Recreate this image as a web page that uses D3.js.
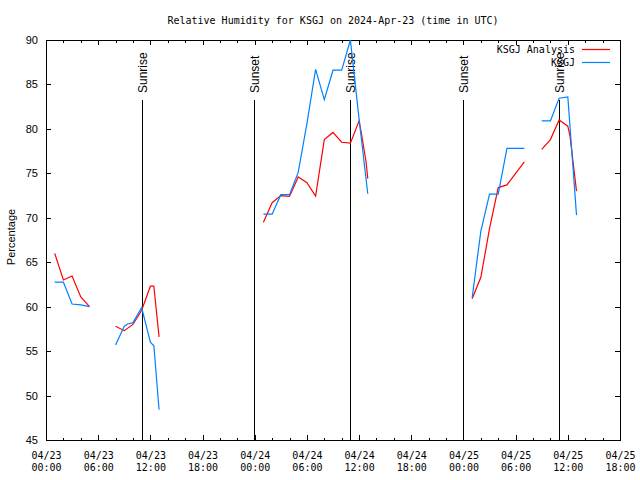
<!DOCTYPE html>
<html>
<head>
<meta charset="utf-8">
<script src="https://cdn.jsdelivr.net/npm/d3@7"></script>
<style>
  html, body { margin: 0; padding: 0; background: #fff; }
  svg { display: block; }
  .mono { font-family: "DejaVu Sans Mono", "Liberation Mono", monospace; font-size: 10px; }
  .sans { font-family: "Liberation Sans", Arial, sans-serif; }
</style>
</head>
<body>
<svg id="chart" width="640" height="480"></svg>
<script>
// ---------------- DATA ----------------
const titleText = "Relative Humidity for KSGJ on 2024-Apr-23 (time in UTC)";
const yLabel = "Percentage";
const seriesNames = ["KSGJ Analysis", "KSGJ"];
const seriesColors = ["#ff0000", "#0080ff"];

// KSGJ Analysis (null = gap)
const analysisTimes = [
  "2024-04-23T01:00Z","2024-04-23T02:00Z","2024-04-23T03:00Z","2024-04-23T04:00Z","2024-04-23T05:00Z","2024-04-23T06:00Z",
  "2024-04-23T08:00Z","2024-04-23T09:00Z","2024-04-23T10:00Z","2024-04-23T11:00Z","2024-04-23T12:00Z","2024-04-23T12:24Z","2024-04-23T13:00Z","2024-04-23T14:00Z",
  "2024-04-24T01:00Z","2024-04-24T02:00Z","2024-04-24T03:00Z","2024-04-24T04:00Z","2024-04-24T05:00Z","2024-04-24T06:00Z","2024-04-24T07:00Z",
  "2024-04-24T08:00Z","2024-04-24T09:00Z","2024-04-24T10:00Z","2024-04-24T11:00Z","2024-04-24T12:00Z","2024-04-24T12:18Z","2024-04-24T12:48Z","2024-04-24T13:00Z","2024-04-24T14:00Z",
  "2024-04-25T01:00Z","2024-04-25T02:00Z","2024-04-25T03:00Z","2024-04-25T04:00Z","2024-04-25T05:00Z","2024-04-25T06:00Z","2024-04-25T07:00Z","2024-04-25T08:00Z",
  "2024-04-25T09:00Z","2024-04-25T10:00Z","2024-04-25T11:00Z","2024-04-25T12:00Z","2024-04-25T12:15Z","2024-04-25T13:00Z"
];
const analysisValues = [
  66.0, 63.0, 63.45, 61.1, 60.0, null,
  57.8, 57.3, 58.0, 59.6, 62.3, 62.3, 56.6, null,
  69.5, 71.7, 72.5, 72.4, 74.6, 73.95, 72.45,
  78.8, 79.6, 78.5, 78.4, 80.9, 79.3, 76.3, 74.4, null,
  60.9, 63.3, 68.8, 73.4, 73.7, 75.0, 76.3, null,
  77.7, 78.8, 81.0, 80.3, 79.2, 73.0
];

// KSGJ observations
const obsTimes = [
  "2024-04-23T01:00Z","2024-04-23T02:00Z","2024-04-23T03:00Z","2024-04-23T04:00Z","2024-04-23T05:00Z","2024-04-23T06:00Z",
  "2024-04-23T08:00Z","2024-04-23T09:00Z","2024-04-23T09:24Z","2024-04-23T10:00Z","2024-04-23T11:00Z","2024-04-23T12:00Z","2024-04-23T12:24Z","2024-04-23T13:00Z","2024-04-23T14:00Z",
  "2024-04-24T01:00Z","2024-04-24T02:00Z","2024-04-24T03:00Z","2024-04-24T04:00Z","2024-04-24T05:00Z","2024-04-24T06:00Z","2024-04-24T07:00Z",
  "2024-04-24T08:00Z","2024-04-24T09:00Z","2024-04-24T10:00Z","2024-04-24T11:00Z","2024-04-24T12:00Z","2024-04-24T13:00Z","2024-04-24T14:00Z",
  "2024-04-25T01:00Z","2024-04-25T02:00Z","2024-04-25T03:00Z","2024-04-25T04:00Z","2024-04-25T05:00Z","2024-04-25T06:00Z","2024-04-25T07:00Z","2024-04-25T08:00Z",
  "2024-04-25T09:00Z","2024-04-25T10:00Z","2024-04-25T11:00Z","2024-04-25T12:00Z","2024-04-25T13:00Z"
];
const obsValues = [
  62.75, 62.75, 60.3, 60.2, 60.0, null,
  55.7, 57.8, 58.05, 58.2, 59.9, 56.0, 55.6, 48.4, null,
  70.4, 70.4, 72.6, 72.6, 75.1, 80.6, 86.7,
  83.3, 86.6, 86.6, 90.0, 81.1, 72.7, null,
  61.0, 68.5, 72.65, 72.65, 77.8, 77.8, 77.8, null,
  80.9, 80.9, 83.45, 83.6, 70.3
];

// Sun events
const sunTimes = ["2024-04-23T10:59Z","2024-04-23T23:55Z","2024-04-24T10:58Z","2024-04-24T23:56Z","2024-04-25T10:57Z"];
const sunLabels = ["Sunrise","Sunset","Sunrise","Sunset","Sunrise"];

// Axes
const xStart = "2024-04-23T00:00Z", xEnd = "2024-04-25T18:00Z";
const yMin = 45, yMax = 90, yStep = 5;

// ---------------- CHART ----------------
const svg = d3.select("#chart");
const L = 46, R = 620, T = 40, B = 440;

const x = d3.scaleUtc().domain([new Date(xStart), new Date(xEnd)]).range([L, R]);
const y = d3.scaleLinear().domain([yMin, yMax]).range([B, T]);

const majorTicks = d3.utcHour.every(6).range(new Date(xStart), d3.utcMinute.offset(new Date(xEnd), 1));
const minorTicks = d3.utcHour.every(2).range(new Date(xStart), d3.utcMinute.offset(new Date(xEnd), 1))
  .filter(d => d.getUTCHours() % 6 !== 0);
const yTicks = d3.range(yMin, yMax + 0.001, yStep);

const fmtDate = d3.utcFormat("%m/%d"), fmtTime = d3.utcFormat("%H:%M");

function styleAxis(g) {
  g.select(".domain").remove();
  g.selectAll(".tick line").attr("stroke", "#000").attr("shape-rendering", "crispEdges");
}

// bottom axis (major ticks with labels)
const gx = svg.append("g").attr("transform", `translate(0,${B})`)
  .call(d3.axisBottom(x).tickValues(majorTicks).tickSize(-5).tickPadding(0).tickFormat(fmtDate))
  .call(styleAxis);
gx.selectAll(".tick text").each(function(d) {
  const t = d3.select(this);
  t.text(null).attr("y", 0).attr("dy", null)
    .attr("class", "mono").attr("fill", "#000")
    .style("font-family", '"DejaVu Sans Mono", monospace').style("font-size", "10px");
  t.append("tspan").attr("x", 0).attr("y", 18.5).text(fmtDate(d));
  t.append("tspan").attr("x", 0).attr("y", 31).text(fmtTime(d));
});
svg.append("g").attr("transform", `translate(0,${B})`)
  .call(d3.axisBottom(x).tickValues(minorTicks).tickSize(-2.5).tickFormat(""))
  .call(styleAxis);

// top axis
svg.append("g").attr("transform", `translate(0,${T})`)
  .call(d3.axisTop(x).tickValues(majorTicks).tickSize(-5).tickFormat(""))
  .call(styleAxis);
svg.append("g").attr("transform", `translate(0,${T})`)
  .call(d3.axisTop(x).tickValues(minorTicks).tickSize(-2.5).tickFormat(""))
  .call(styleAxis);

// left axis
const gy = svg.append("g").attr("transform", `translate(${L},0)`)
  .call(d3.axisLeft(y).tickValues(yTicks).tickSize(-5).tickPadding(8).tickFormat(d3.format("d")))
  .call(styleAxis);
gy.selectAll(".tick text").attr("x", -8).attr("fill", "#000")
  .style("font-family", '"Liberation Sans", Arial, sans-serif').style("font-size", "11px");

// right axis
svg.append("g").attr("transform", `translate(${R},0)`)
  .call(d3.axisRight(y).tickValues(yTicks).tickSize(-5).tickFormat(""))
  .call(styleAxis);

// border
svg.append("rect").attr("x", L).attr("y", T).attr("width", R - L).attr("height", B - T)
  .attr("fill", "none").attr("stroke", "#000").attr("shape-rendering", "crispEdges");

// sunrise / sunset
const sun = sunTimes.map((t, i) => ({ t: new Date(t), label: sunLabels[i] }));
svg.append("g").selectAll("line").data(sun).join("line")
  .attr("x1", d => Math.round(x(d.t)) + 0.5).attr("x2", d => Math.round(x(d.t)) + 0.5)
  .attr("y1", 100).attr("y2", B)
  .attr("stroke", "#000").attr("stroke-width", 1);
svg.append("g").selectAll("text").data(sun).join("text")
  .attr("transform", d => `translate(${Math.round(x(d.t)) + 0.5},93) rotate(-90)`)
  .attr("dy", "0.36em")
  .attr("text-anchor", "start")
  .style("font-family", '"Liberation Sans", Arial, sans-serif').style("font-size", "12px")
  .text(d => d.label);

// series
const line = d3.line().defined(d => d.v !== null).x(d => x(d.t)).y(d => y(d.v));
const analysis = analysisTimes.map((t, i) => ({ t: new Date(t), v: analysisValues[i] }));
const obs = obsTimes.map((t, i) => ({ t: new Date(t), v: obsValues[i] }));

svg.append("path").datum(analysis).attr("d", line)
  .attr("fill", "none").attr("stroke", seriesColors[0]).attr("stroke-width", 1.2);
svg.append("path").datum(obs).attr("d", line)
  .attr("fill", "none").attr("stroke", seriesColors[1]).attr("stroke-width", 1.2);

// title
svg.append("text").attr("x", (L + R) / 2).attr("y", 23.5).attr("text-anchor", "middle")
  .style("font-family", '"DejaVu Sans Mono", monospace').style("font-size", "10px")
  .text(titleText);

// y label
svg.append("text").attr("transform", "translate(11,237) rotate(-90)")
  .attr("text-anchor", "middle").attr("dy", "0.35em")
  .style("font-family", '"Liberation Sans", Arial, sans-serif').style("font-size", "11px")
  .text(yLabel);

// legend
const legend = svg.append("g");
seriesNames.forEach((name, i) => {
  const ly = 49.5 + i * 13;
  legend.append("text").attr("x", 575).attr("y", ly).attr("dy", "0.35em").attr("text-anchor", "end")
    .style("font-family", '"DejaVu Sans Mono", monospace').style("font-size", "10px").text(name);
  legend.append("line").attr("x1", 582).attr("x2", 610).attr("y1", ly).attr("y2", ly)
    .attr("stroke", seriesColors[i]).attr("stroke-width", 1.2);
});
</script>
</body>
</html>
